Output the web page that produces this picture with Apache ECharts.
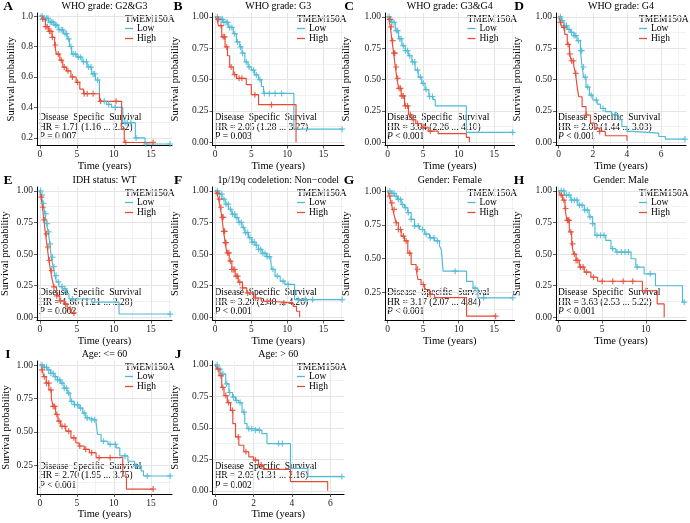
<!DOCTYPE html>
<html><head><meta charset="utf-8">
<script src="https://cdn.jsdelivr.net/npm/echarts@6/dist/echarts.min.js"></script>
<style>html,body{margin:0;padding:0;background:#fff}#c{width:690px;height:523px}</style>
</head><body><div id="c"></div>
<script>
// ---------- DATA (Kaplan-Meier step points [time, survival]) ----------
const lowA = [[0,1],[0.5,0.985],[1.2,0.96],[1.9,0.94],[2.5,0.91],[3.2,0.885],[3.7,0.85],[4.0,0.80],[4.3,0.75],[5.0,0.73],[5.7,0.70],[6.4,0.665],[7.0,0.62],[7.5,0.58],[8.05,0.46],[8.3,0.44],[9.0,0.42],[9.7,0.40],[11.2,0.30],[12.9,0.20],[14.2,0.16],[17.6,0.16]];
const highA = [[0,1],[0.3,0.98],[0.76,0.93],[1.2,0.90],[1.66,0.86],[2.0,0.81],[2.24,0.75],[2.7,0.71],[3.1,0.665],[3.6,0.64],[4.2,0.60],[4.9,0.565],[5.4,0.52],[5.9,0.49],[8.06,0.44],[11.05,0.26],[11.4,0.17],[15.3,0.17]];
const lowB = [[0,1],[0.45,0.98],[1.1,0.955],[1.8,0.915],[2.5,0.865],[2.95,0.80],[3.4,0.76],[3.7,0.71],[4.1,0.64],[4.55,0.60],[5.0,0.575],[5.45,0.537],[6.0,0.50],[6.4,0.445],[6.7,0.39],[10.9,0.105],[17.6,0.105]];
const highB = [[0,1],[0.23,0.98],[0.45,0.93],[0.9,0.84],[1.36,0.76],[1.7,0.69],[2.0,0.60],[2.5,0.54],[2.95,0.51],[4.3,0.46],[5.0,0.38],[6.0,0.30],[11.2,0]];
const lowC = [[0,1],[0.37,0.98],[0.6,0.955],[1.07,0.89],[1.53,0.825],[2.0,0.77],[2.47,0.73],[2.9,0.69],[3.4,0.64],[3.86,0.575],[4.3,0.52],[4.8,0.47],[5.25,0.42],[5.8,0.365],[6.4,0.34],[6.7,0.29],[11.07,0.08],[17.6,0.08]];
const highC = [[0,1],[0.14,0.98],[0.37,0.92],[0.6,0.81],[0.84,0.71],[1.07,0.60],[1.3,0.51],[1.53,0.43],[1.9,0.37],[2.37,0.29],[2.93,0.22],[3.4,0.18],[3.95,0.15],[4.8,0.12],[5.7,0.09],[7.1,0.07],[11.07,0.04],[11.5,0]];
const lowD = [[0,1],[0.16,0.97],[0.3,0.93],[0.5,0.90],[0.68,0.876],[0.88,0.85],[1.07,0.81],[1.27,0.73],[1.37,0.60],[1.46,0.52],[1.6,0.44],[1.8,0.376],[2.0,0.337],[2.25,0.305],[2.44,0.27],[2.73,0.245],[3.1,0.22],[3.5,0.18],[3.7,0.126],[4.0,0.087],[4.3,0.074],[5.86,0.047],[6.25,0.026],[7.4,0.026]];
const highD = [[0,1],[0.1,0.955],[0.2,0.915],[0.35,0.86],[0.5,0.78],[0.63,0.705],[0.74,0.65],[0.88,0.61],[0.98,0.55],[1.07,0.455],[1.17,0.363],[1.37,0.284],[1.6,0.218],[1.86,0.153],[2.1,0.113],[2.38,0.087],[2.73,0.053],[4.0,0.012]];
const lowE = [[0,1],[0.18,0.966],[0.45,0.90],[0.68,0.82],[0.9,0.74],[1.13,0.675],[1.36,0.58],[1.54,0.476],[1.8,0.40],[2.04,0.33],[2.26,0.28],[2.58,0.243],[3.03,0.225],[3.6,0.185],[3.94,0.145],[7.0,0.12],[10.7,0.026],[17.6,0.026]];
const highE = [[0,1],[0.18,0.95],[0.36,0.87],[0.54,0.77],[0.77,0.66],[1.0,0.556],[1.22,0.45],[1.45,0.37],[1.67,0.30],[1.9,0.24],[2.26,0.17],[2.7,0.13],[3.26,0.106],[3.7,0.066],[4.25,0.035],[4.6,0.035]];
const lowF = [[0,1],[0.46,0.974],[0.92,0.934],[1.38,0.894],[1.84,0.854],[2.3,0.815],[2.76,0.788],[3.2,0.75],[3.7,0.71],[4.1,0.67],[4.6,0.63],[5.06,0.595],[5.5,0.57],[6.0,0.537],[6.5,0.505],[7.1,0.48],[7.7,0.445],[7.8,0.38],[8.3,0.325],[9.0,0.286],[9.65,0.26],[11.0,0.14],[17.6,0.14]];
const highF = [[0,1],[0.23,0.98],[0.46,0.934],[0.69,0.87],[0.92,0.79],[1.15,0.68],[1.38,0.59],[1.6,0.51],[1.93,0.444],[2.3,0.378],[2.76,0.325],[3.2,0.278],[3.77,0.233],[4.37,0.193],[5.3,0.153],[6.4,0.127],[7.8,0.114],[10.8,0.087],[11.26,0.048],[11.7,0]];
const lowG = [[0,1],[0.47,0.983],[0.94,0.963],[1.4,0.938],[1.9,0.90],[2.36,0.876],[2.83,0.84],[3.3,0.79],[3.77,0.74],[4.5,0.715],[5.2,0.68],[5.9,0.653],[6.6,0.63],[7.3,0.59],[7.55,0.567],[7.8,0.406],[11.1,0.33],[12.0,0.28],[12.7,0.208],[17.6,0.208]];
const highG = [[0,1],[0.24,0.963],[0.47,0.913],[0.7,0.864],[0.94,0.814],[1.18,0.765],[1.5,0.715],[1.9,0.666],[2.36,0.63],[2.83,0.54],[3.3,0.455],[4.0,0.42],[4.25,0.344],[4.7,0.307],[5.2,0.27],[5.9,0.233],[6.6,0.21],[11.1,0.072],[15.2,0.072]];
const lowH = [[0,1],[0.65,0.966],[1.4,0.926],[2.2,0.886],[2.94,0.847],[3.5,0.794],[3.9,0.74],[4.16,0.648],[5.4,0.608],[6.0,0.542],[6.56,0.516],[8.3,0.463],[8.85,0.397],[9.8,0.344],[11.1,0.25],[14.2,0.12],[14.4,0.12]];
const highH = [[0,1],[0.2,0.966],[0.46,0.926],[0.73,0.86],[0.95,0.767],[1.22,0.675],[1.5,0.58],[1.72,0.50],[2.0,0.45],[2.37,0.397],[2.94,0.357],[3.7,0.317],[4.47,0.285],[9.6,0.21],[11.3,0.106],[12.1,0]];
const lowI = [[0,1],[0.55,0.983],[1.0,0.963],[1.45,0.938],[1.9,0.913],[2.36,0.889],[2.8,0.864],[3.27,0.827],[3.7,0.79],[4.1,0.728],[4.6,0.703],[5.3,0.678],[5.8,0.64],[6.2,0.604],[6.7,0.59],[7.6,0.567],[7.8,0.48],[8.27,0.43],[9.2,0.406],[10.3,0.38],[10.8,0.32],[11.9,0.28],[12.8,0.245],[13.7,0.208],[14.0,0.17],[17.6,0.17]];
const highI = [[0,1],[0.3,0.963],[0.55,0.913],[0.86,0.864],[1.23,0.814],[1.55,0.752],[1.8,0.69],[2.14,0.63],[2.45,0.58],[2.8,0.542],[3.5,0.505],[4.2,0.455],[4.86,0.418],[5.3,0.394],[6.0,0.369],[6.7,0.344],[7.6,0.307],[11.2,0.17],[11.7,0.072],[15.3,0.072]];
const lowJ = [[0,1],[0.12,0.966],[0.29,0.926],[0.55,0.848],[0.72,0.78],[0.9,0.743],[1.06,0.717],[1.23,0.70],[1.4,0.625],[1.54,0.533],[1.66,0.493],[2.0,0.48],[2.43,0.454],[2.7,0.375],[3.92,0.178],[4.83,0.113],[6.6,0.113]];
const highJ = [[0,1],[0.09,0.966],[0.2,0.913],[0.34,0.82],[0.46,0.756],[0.63,0.70],[0.8,0.638],[0.92,0.533],[1.06,0.428],[1.23,0.362],[1.49,0.31],[1.75,0.27],[2.0,0.244],[2.26,0.205],[2.5,0.17],[3.92,0.073],[5.86,0]];

// censoring times (years)
const censLowA = [0.3,0.6,0.9,1.1,1.4,1.6,1.8,2.1,2.3,2.6,2.9,3.1,3.4,3.6,3.9,4.2,4.5,4.8,5.2,5.5,5.9,6.3,6.6,6.9,7.2,7.4,7.8,8.7,9.3,10.2,11.5,11.8,12.3,13.0,14.3,17.6];
const censHighA = [0.4,0.8,1.0,1.3,1.5,1.7,2.1,2.5,2.9,3.3,3.8,4.4,5.1,6.0,6.4,7.2,8.2,10.3,11.6,15.3];
const censLowB = [0.3,0.5,0.8,1.0,1.2,1.5,1.7,2.0,2.3,2.7,3.1,3.5,3.8,4.3,4.7,5.3,5.7,6.2,6.8,7.5,8.3,9.2,17.6];
const censHighB = [0.4,0.8,1.1,1.3,1.6,2.2,2.7,3.3,3.7,5.5,7.8];
const censLowC = [0.2,0.4,0.6,0.9,1.2,1.4,1.7,1.9,2.2,2.5,2.8,3.1,3.5,3.8,4.2,4.6,5.0,5.4,5.9,6.3,17.6];
const censHighC = [0.3,0.5,0.7,0.9,1.0,1.2,1.4,1.6,1.8,2.0,2.2,2.5,2.8,3.2,3.6,4.2,5.0,6.0];
const censLowD = [0.1,0.2,0.35,0.45,0.6,0.75,0.9,1.0,1.15,1.3,1.35,1.45,1.55,1.7,1.9,2.2,2.6,3.3,7.4];
const censHighD = [0.1,0.3,0.55,0.65,0.75,0.85,1.0,1.6,2.4];
const censLowE = [0.1,0.3,0.5,0.8,1.0,1.2,1.4,1.7,1.9,2.2,2.5,3.0,3.4,4.4,17.6];
const censHighE = [0.2,0.4,0.6,0.9,1.1,1.3,1.6,1.9,2.3,2.8,3.5,4.1,4.6];
const censLowF = [0.3,0.6,0.9,1.2,1.5,1.8,2.1,2.4,2.7,3.0,3.3,3.6,3.9,4.2,4.5,4.8,5.1,5.4,5.7,6.0,6.3,6.6,6.9,7.2,7.5,8.0,8.6,9.4,10.1,11.5,12.5,13.5,17.6];
const censHighF = [0.3,0.6,0.8,1.0,1.1,1.2,1.3,1.4,1.5,1.7,1.9,2.1,2.3,2.5,2.7,2.9,3.1,3.4,3.8,4.5,5.6,7.2,9.5];
const censLowG = [0.3,0.6,0.9,1.2,1.5,1.8,2.1,2.5,2.9,3.3,3.8,4.3,4.9,5.4,6.0,6.5,7.0,9.5,12.3,13.5,17.6];
const censHighG = [0.3,0.6,0.9,1.2,1.5,1.8,2.2,2.6,3.1,4.2,5.0,6.0,15.2];
const censLowH = [0.3,0.6,0.9,1.2,1.5,1.8,2.1,2.4,2.7,3.0,3.3,3.6,3.9,4.4,4.8,5.2,6.2,6.7,7.2,7.6,8.0,9.0,10.5,14.4];
const censHighH = [0.3,0.6,0.8,1.0,1.1,1.2,1.4,1.6,1.8,2.0,2.2,2.5,2.8,3.2,4.0,5.0,6.2,7.4,8.5,10.0];
const censLowI = [0.3,0.6,0.9,1.2,1.5,1.8,2.1,2.4,2.7,3.0,3.3,3.6,3.9,4.3,4.7,5.1,5.5,6.0,6.4,7.0,7.4,8.6,9.5,10.2,11.5,13.0,14.5,17.6];
const censHighI = [0.3,0.6,0.9,1.2,1.5,1.8,2.0,2.3,2.6,3.0,3.4,3.9,4.6,5.4,6.2,7.0,8.0,9.5,15.3];
const censLowJ = [0.1,0.25,0.4,0.6,0.75,0.95,1.1,1.3,1.5,1.75,1.9,2.1,2.3,3.3,3.5,6.6];
const censHighJ = [0.15,0.3,0.4,0.55,0.7,0.9,1.2,1.6,2.1,2.4];

// text
const panelLetters = ['A','B','C','D','E','F','G','H','I','J'];
const panelTitles = ['WHO grade: G2&G3','WHO grade: G3','WHO grade: G3&G4','WHO grade: G4','IDH status: WT','1p/19q codeletion: Non\u2212codel','Gender: Female','Gender: Male','Age: <= 60','Age: > 60'];
const hrTexts = ['HR = 1.71 (1.16 ... 2.52)','HR = 2.05 (1.28 ... 3.27)','HR = 3.04 (2.26 ... 4.10)','HR = 2.09 (1.44 ... 3.03)','HR = 1.66 (1.21 ... 2.28)','HR = 3.20 (2.40 ... 4.26)','HR = 3.17 (2.07 ... 4.84)','HR = 3.63 (2.53 ... 5.22)','HR = 2.70 (1.95 ... 3.75)','HR = 2.03 (1.31 ... 3.16)'];
const pTexts = [' = 0.007',' = 0.003',' < 0.001',' < 0.001',' = 0.002',' < 0.001',' < 0.001',' < 0.001',' < 0.001',' = 0.002'];
const endpointText = 'Disease  Specific  Survival';
const legendTitle = 'TMEM150A';
const groupNames = ['Low','High'];

// tick labels
const xTicks15 = [0,5,10,15], xMinor15 = [2.5,7.5,12.5,17.5];
const xTicks6 = [0,2,4,6], xMinorD = [1,3,5,7], xMinorJ = [1,3,5];
const xTicksH = [0,5,10], xMinorH = [2.5,7.5,12.5];
const yTicksA = [0.2,0.4,0.6,0.8,1.0], yMinorA = [0.3,0.5,0.7,0.9];
const yTicks01 = [0,0.25,0.5,0.75,1], yMinor01 = [0.125,0.375,0.625,0.875];
const yTicksHi = [0.25,0.5,0.75,1], yMinorHi = [0.125,0.375,0.625,0.875];

// ---------- LAYOUT ----------
const FONT = '"Liberation Serif","Times New Roman",serif';
const COLORS = {Low:'#4DBBD5', High:'#E64B35'};
const colLeft = [37, 212.5, 385, 556];
const colWidth = [135, 131.5, 129.5, 130];
const rowTop = [13, 187, 361];
const rowBottom = [145.5, 320.5, 494];
const letterX = [8, 178, 349, 519];

const panels = [
  {row:0,col:0,low:lowA,high:highA,cl:censLowA,ch:censHighA,xr:[-0.38,17.85],xt:xTicks15,xm:xMinor15,yr:[0.15,1.02],yt:yTicksA,ym:yMinorA,dec:1,yGap:17},
  {row:0,col:1,low:lowB,high:highB,cl:censLowB,ch:censHighB,xr:[-0.38,17.85],xt:xTicks15,xm:xMinor15,yr:[-0.025,1.03],yt:yTicks01,ym:yMinor01,dec:2,yGap:32},
  {row:0,col:2,low:lowC,high:highC,cl:censLowC,ch:censHighC,xr:[-0.38,17.85],xt:xTicks15,xm:xMinor15,yr:[-0.025,1.03],yt:yTicks01,ym:yMinor01,dec:2,yGap:33},
  {row:0,col:3,low:lowD,high:highD,cl:censLowD,ch:censHighD,xr:[-0.16,7.46],xt:xTicks6,xm:xMinorD,yr:[-0.025,1.03],yt:yTicks01,ym:yMinor01,dec:2,yGap:33},
  {row:1,col:0,low:lowE,high:highE,cl:censLowE,ch:censHighE,xr:[-0.38,17.85],xt:xTicks15,xm:xMinor15,yr:[-0.025,1.03],yt:yTicks01,ym:yMinor01,dec:2,yGap:26},
  {row:1,col:1,low:lowF,high:highF,cl:censLowF,ch:censHighF,xr:[-0.38,17.85],xt:xTicks15,xm:xMinor15,yr:[-0.025,1.03],yt:yTicks01,ym:yMinor01,dec:2,yGap:32},
  {row:1,col:2,low:lowG,high:highG,cl:censLowG,ch:censHighG,xr:[-0.38,17.85],xt:xTicks15,xm:xMinor15,yr:[0.04,1.03],yt:yTicksHi,ym:yMinorHi,dec:2,yGap:33},
  {row:1,col:3,low:lowH,high:highH,cl:censLowH,ch:censHighH,xr:[-0.3,14.6],xt:xTicksH,xm:xMinorH,yr:[-0.025,1.03],yt:yTicks01,ym:yMinor01,dec:2,yGap:33},
  {row:2,col:0,low:lowI,high:highI,cl:censLowI,ch:censHighI,xr:[-0.38,17.85],xt:xTicks15,xm:xMinor15,yr:[0.035,1.03],yt:yTicksHi,ym:yMinorHi,dec:2,yGap:25},
  {row:2,col:1,low:lowJ,high:highJ,cl:censLowJ,ch:censHighJ,xr:[-0.14,6.71],xt:xTicks6,xm:xMinorJ,yr:[-0.025,1.03],yt:yTicks01,ym:yMinor01,dec:2,yGap:32}
];

function stepAt(curve, t){
  let v = curve[0][1];
  for (const [x,y] of curve){ if (x <= t) v = y; else break; }
  return v;
}
const PLUS = 'path://M4,0 L6,0 L6,4 L10,4 L10,6 L6,6 L6,10 L4,10 L4,6 L0,6 L0,4 L4,4 Z';

const grid=[], xAxis=[], yAxis=[], series=[], legend=[], elements=[];
const txt = (extra) => Object.assign({fontFamily:FONT, fill:'#000'}, extra);

panels.forEach((p,i)=>{
  const left = colLeft[p.col], top = rowTop[p.row], w = colWidth[p.col], h = rowBottom[p.row]-rowTop[p.row];
  const bottom = top + h;
  grid.push({left, top, width:w, height:h, containLabel:false, outerBoundsMode:'none'});
  const gridLine = {show:true, lineStyle:{color:'#E4E4E4', width:1}};
  const minorLine = {show:true, lineStyle:{color:'#ECECEC', width:0.7}};
  xAxis.push({gridIndex:i, type:'value', min:p.xr[0], max:p.xr[1], position:'bottom',
    name:'Time (years)', nameLocation:'middle', nameGap:14,
    nameTextStyle:{fontFamily:FONT, fontSize:10.5, color:'#000'},
    axisLine:{show:true, onZero:false, lineStyle:{color:'#000', width:1}},
    axisTick:{show:true, length:3, customValues:p.xt, lineStyle:{color:'#333', width:0.8}},
    axisLabel:{customValues:p.xt, fontFamily:FONT, fontSize:9.5, color:'#222', margin:4, formatter:v=>String(v)},
    splitLine:gridLine});
  xAxis.push({gridIndex:i, type:'value', min:p.xr[0], max:p.xr[1], position:'bottom',
    axisLine:{show:false, onZero:false}, axisTick:{show:false, customValues:p.xm},
    axisLabel:{show:false, customValues:p.xm}, splitLine:minorLine});
  yAxis.push({gridIndex:i, type:'value', min:p.yr[0], max:p.yr[1], position:'left',
    name:'Survival probability', nameLocation:'middle', nameGap:p.yGap,
    nameTextStyle:{fontFamily:FONT, fontSize:10.5, color:'#000'},
    axisLine:{show:true, onZero:false, lineStyle:{color:'#000', width:1}},
    axisTick:{show:true, length:3, customValues:p.yt, lineStyle:{color:'#333', width:0.8}},
    axisLabel:{customValues:p.yt, fontFamily:FONT, fontSize:9.5, color:'#222', margin:4, formatter:v=>v.toFixed(p.dec)},
    splitLine:gridLine});
  yAxis.push({gridIndex:i, type:'value', min:p.yr[0], max:p.yr[1], position:'left',
    axisLine:{show:false, onZero:false}, axisTick:{show:false, customValues:p.ym},
    axisLabel:{show:false, customValues:p.ym}, splitLine:minorLine});

  [['Low',p.low],['High',p.high]].forEach(([name,curve])=>{
    series.push({type:'line', name, xAxisIndex:2*i, yAxisIndex:2*i, data:curve, step:'end',
      symbol:'none', clip:true, animation:false, silent:true,
      lineStyle:{color:COLORS[name], width:1.15}, itemStyle:{color:COLORS[name]}, z:3});
  });
  [['Low',p.low,p.cl],['High',p.high,p.ch]].forEach(([name,curve,cens])=>{
    series.push({type:'scatter', name, xAxisIndex:2*i, yAxisIndex:2*i,
      data:cens.map(t=>[t, stepAt(curve,t)]), symbol:PLUS, symbolSize:6,
      clip:true, animation:false, silent:true, itemStyle:{color:COLORS[name], opacity:0.85}, z:4});
  });

  legend.push({data:groupNames, orient:'vertical', left:left+w-47, top:top+10.5, itemWidth:8, itemHeight:1.3,
    icon:'rect', itemGap:0, selectedMode:false, padding:0,
    textStyle:{fontFamily:FONT, fontSize:9.5, color:'#000', lineHeight:9, padding:[0,0,0,-1]}});

  elements.push({type:'text', x:left+w-47, y:top+6.5, style:txt({text:legendTitle, fontSize:9.5, verticalAlign:'middle', align:'left'})});
  elements.push({type:'text', x:letterX[p.col], y:top-6, style:txt({text:panelLetters[i], fontSize:13.5, fontWeight:'bold', verticalAlign:'middle', align:'center'})});
  elements.push({type:'text', x:left+w/2, y:top-7, style:txt({text:panelTitles[i], fontSize:10, verticalAlign:'middle', align:'center'})});
  elements.push({type:'text', x:left+2, y:bottom-28, style:txt({text:endpointText, fontSize:9.5, verticalAlign:'middle', align:'left'})});
  elements.push({type:'text', x:left+2, y:bottom-18.5, style:txt({text:hrTexts[i], fontSize:9.5, verticalAlign:'middle', align:'left'})});
  elements.push({type:'text', x:left+2, y:bottom-9, style:txt({text:'{i|P}{n|'+pTexts[i]+'}', fontSize:9.5, verticalAlign:'middle', align:'left',
    rich:{i:{fontStyle:'italic', fontFamily:FONT, fontSize:9.5, fill:'#000'}, n:{fontFamily:FONT, fontSize:9.5, fill:'#000'}}})});
});

const chart = echarts.init(document.getElementById('c'), null, {renderer:'canvas'});
chart.setOption({animation:false, backgroundColor:'#fff', grid, xAxis, yAxis, series, legend, graphic:{elements}});
</script></body></html>
